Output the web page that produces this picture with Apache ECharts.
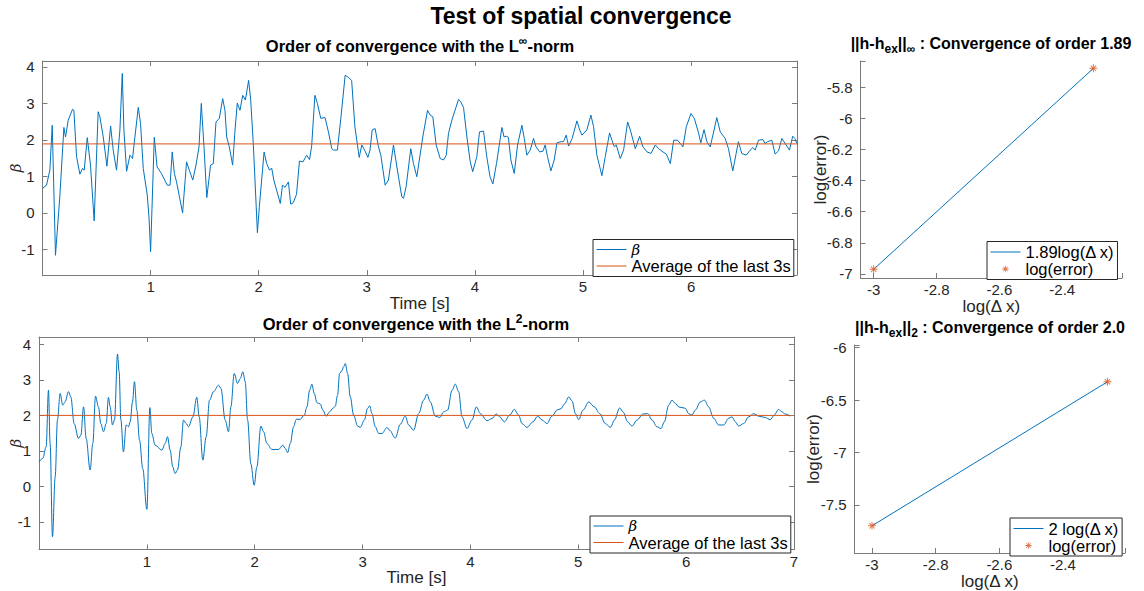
<!DOCTYPE html>
<html><head><meta charset="utf-8">
<script src="https://cdn.jsdelivr.net/npm/echarts@6/dist/echarts.min.js"></script>
<style>html,body{margin:0;padding:0;background:#fff}#c{width:1144px;height:591px}</style>
</head><body><div id="c"></div>
<script>
// ---- data ----
const betaInfPoints = [
[0,0.67],[0.037,0.76],[0.068,1.17],[0.09,2.40],[0.12,-1.16],[0.16,0.44],[0.198,2.34],[0.213,2.08],[0.238,2.54],[0.278,2.84],
[0.29,2.81],[0.315,1.54],[0.346,1.06],[0.37,1.22],[0.386,1.17],[0.414,2.06],[0.444,1.31],[0.478,-0.22],[0.515,2.77],[0.531,2.63],
[0.562,2.08],[0.596,1.28],[0.63,2.38],[0.654,1.72],[0.685,1.17],[0.716,2.27],[0.738,3.82],[0.753,2.27],[0.778,1.14],[0.809,1.58],
[0.833,1.49],[0.855,2.08],[0.886,2.89],[0.907,2.45],[0.932,1.22],[0.969,0.49],[0.985,-0.11],[1.0,-1.06],[1.034,2.07],[1.06,1.26],
[1.10,1.08],[1.154,0.76],[1.18,0.76],[1.2,1.67],[1.22,1.08],[1.24,0.85],[1.296,0.0],[1.333,1.40],[1.358,1.17],[1.39,0.90],
[1.42,1.31],[1.448,1.81],[1.469,3.0],[1.494,1.81],[1.52,0.42],[1.555,1.31],[1.58,1.35],[1.605,2.49],[1.636,2.59],[1.667,3.13],
[1.688,2.81],[1.704,2.08],[1.728,1.81],[1.759,1.31],[1.781,2.27],[1.802,3.01],[1.827,2.81],[1.852,3.22],[1.877,3.09],[1.907,3.63],
[1.926,3.09],[1.95,1.90],[1.988,-0.54],[2.006,0.17],[2.05,1.67],[2.074,1.35],[2.1,1.17],[2.12,1.23],[2.14,0.90],[2.2,0.26],
[2.22,0.76],[2.244,0.70],[2.275,0.85],[2.296,0.24],[2.32,0.28],[2.35,0.51],[2.377,1.42],[2.41,1.40],[2.444,1.58],[2.47,1.46],
[2.49,1.83],[2.52,3.22],[2.543,3.0],[2.574,2.59],[2.614,2.61],[2.645,2.22],[2.676,1.76],[2.69,1.72],[2.728,1.72],[2.76,2.59],
[2.8,3.77],[2.83,3.71],[2.86,3.63],[2.89,2.36],[2.93,1.52],[2.954,1.86],[2.98,1.72],[3.01,1.52],[3.03,1.72],[3.05,2.27],
[3.077,2.31],[3.108,1.81],[3.13,1.58],[3.17,0.76],[3.2,0.90],[3.247,1.86],[3.293,0.99],[3.324,0.44],[3.34,0.40],[3.364,0.72],
[3.407,1.76],[3.432,1.35],[3.463,0.99],[3.518,2.08],[3.562,2.81],[3.586,2.68],[3.611,2.63],[3.642,1.86],[3.679,1.49],[3.71,1.45],
[3.735,1.58],[3.756,2.18],[3.787,2.54],[3.849,3.11],[3.87,3.04],[3.895,2.89],[3.926,2.08],[3.957,1.40],[3.98,1.13],[4.018,1.54],
[4.043,2.22],[4.08,2.24],[4.11,1.54],[4.14,0.99],[4.166,0.79],[4.2,1.35],[4.25,2.34],[4.27,2.08],[4.29,2.10],[4.31,2.07],
[4.333,1.45],[4.364,1.08],[4.395,1.86],[4.435,2.40],[4.457,2.04],[4.481,1.58],[4.512,1.72],[4.543,2.04],[4.565,1.81],[4.6,1.67],
[4.63,1.69],[4.65,1.86],[4.672,1.54],[4.703,1.15],[4.734,1.45],[4.759,1.92],[4.796,1.95],[4.82,1.95],[4.845,2.13],[4.867,1.83],
[4.9,2.04],[4.944,2.52],[4.97,2.27],[4.99,2.13],[5.036,2.27],[5.073,2.68],[5.098,2.36],[5.129,1.58],[5.175,1.02],[5.206,1.54],
[5.246,2.19],[5.268,1.99],[5.29,1.81],[5.308,1.86],[5.345,1.49],[5.376,1.72],[5.413,2.49],[5.438,2.27],[5.484,1.76],[5.524,2.10],
[5.555,1.81],[5.592,1.67],[5.629,1.63],[5.669,1.86],[5.7,1.76],[5.74,1.67],[5.771,1.61],[5.808,1.35],[5.839,1.99],[5.876,1.99],
[5.925,1.81],[5.956,2.36],[5.999,2.72],[6.03,2.59],[6.07,2.18],[6.09,1.92],[6.12,2.28],[6.146,1.95],[6.177,1.81],[6.213,2.27],
[6.238,2.61],[6.27,2.22],[6.315,2.04],[6.346,1.76],[6.386,1.15],[6.417,1.63],[6.438,1.95],[6.469,1.63],[6.51,1.58],[6.547,1.72],
[6.571,1.79],[6.593,1.72],[6.624,1.99],[6.664,2.01],[6.685,1.90],[6.707,1.95],[6.747,1.99],[6.778,1.61],[6.809,1.70],[6.84,2.04],
[6.87,1.90],[6.91,1.72],[6.94,2.10],[6.96,2.04],[6.98,1.90]
];
const avgInfPoints = [[0,1.89],[6.98,1.89]];

const betaL2Points = [
[0,0.69],[0.035,0.79],[0.066,1.11],[0.088,2.71],[0.103,1.21],[0.125,-1.42],[0.15,0.27],[0.171,1.87],[0.196,2.62],[0.22,2.29],
[0.242,2.38],[0.273,2.67],[0.295,2.52],[0.326,1.77],[0.366,1.35],[0.388,1.44],[0.413,2.24],[0.437,1.35],[0.474,0.46],[0.499,1.21],
[0.524,2.54],[0.551,2.24],[0.573,1.77],[0.598,1.54],[0.623,1.77],[0.644,2.51],[0.66,2.24],[0.681,1.73],[0.70,1.87],[0.728,3.73],
[0.743,3.23],[0.759,1.87],[0.783,0.97],[0.808,1.73],[0.83,1.68],[0.845,1.82],[0.867,2.38],[0.885,2.95],[0.907,2.15],[0.932,1.30],
[0.962,0.50],[1.0,-0.65],[1.028,2.22],[1.046,1.49],[1.077,1.16],[1.139,1.02],[1.17,1.21],[1.191,1.40],[1.216,1.02],[1.24,0.55],
[1.262,0.36],[1.284,0.46],[1.315,1.11],[1.34,1.87],[1.365,1.77],[1.386,1.68],[1.427,1.96],[1.463,2.51],[1.485,1.96],[1.519,0.74],
[1.55,1.40],[1.581,2.43],[1.618,2.67],[1.665,2.85],[1.687,2.76],[1.726,1.87],[1.757,1.54],[1.779,2.24],[1.81,3.18],[1.841,2.90],
[1.866,3.04],[1.89,3.23],[1.912,2.95],[1.934,1.87],[1.964,0.64],[1.995,0.03],[2.02,0.55],[2.057,1.70],[2.082,1.54],[2.113,1.21],
[2.159,1.04],[2.221,1.04],[2.261,1.16],[2.283,1.07],[2.305,0.95],[2.33,1.21],[2.36,1.68],[2.385,1.89],[2.422,1.89],[2.46,2.01],
[2.484,2.24],[2.509,2.71],[2.53,2.88],[2.552,2.62],[2.577,2.36],[2.608,2.32],[2.632,2.15],[2.663,1.98],[2.694,2.10],[2.725,2.20],
[2.747,2.26],[2.768,2.57],[2.787,3.18],[2.809,3.26],[2.824,3.37],[2.84,3.46],[2.861,3.18],[2.886,2.52],[2.917,2.01],[2.954,1.70],
[2.979,1.66],[3.016,1.87],[3.047,2.20],[3.066,2.27],[3.087,2.05],[3.118,1.68],[3.149,1.49],[3.18,1.49],[3.226,1.66],[3.251,1.58],
[3.303,1.36],[3.35,1.75],[3.396,1.98],[3.427,1.73],[3.473,1.58],[3.52,2.05],[3.566,2.43],[3.597,2.60],[3.628,2.38],[3.674,1.98],
[3.715,1.94],[3.752,2.10],[3.789,2.15],[3.829,2.71],[3.86,2.88],[3.891,2.67],[3.922,1.96],[3.968,1.63],[4.015,1.87],[4.055,2.24],
[4.092,2.05],[4.154,1.85],[4.2,1.91],[4.24,2.04],[4.271,1.96],[4.315,1.82],[4.364,2.01],[4.407,2.17],[4.447,2.01],[4.478,1.77],
[4.525,1.66],[4.58,1.82],[4.624,1.98],[4.664,1.87],[4.71,1.77],[4.757,1.98],[4.803,2.15],[4.84,2.19],[4.871,2.32],[4.912,2.52],
[4.942,2.41],[4.973,2.05],[5.004,1.88],[5.044,2.15],[5.097,2.38],[5.149,2.24],[5.199,2.05],[5.251,1.77],[5.298,1.66],[5.335,1.87],
[5.384,2.21],[5.415,2.10],[5.458,1.82],[5.498,1.70],[5.545,1.87],[5.6,2.04],[5.644,2.05],[5.684,1.87],[5.73,1.68],[5.767,1.63],
[5.798,1.82],[5.838,2.29],[5.869,2.43],[5.9,2.34],[5.931,2.24],[5.993,2.20],[6.023,2.05],[6.054,2.01],[6.085,2.15],[6.132,2.38],
[6.169,2.43],[6.209,2.24],[6.255,1.92],[6.302,1.73],[6.348,1.73],[6.394,1.92],[6.425,1.96],[6.456,1.82],[6.487,1.70],[6.533,1.77],
[6.58,1.96],[6.626,2.05],[6.672,1.98],[6.734,1.94],[6.78,1.88],[6.817,2.01],[6.857,2.17],[6.888,2.10],[6.919,2.04],[6.965,1.98]
];
const avgL2Points = [[0,2.0],[6.97,2.0]];

const logDxInf = [-3, -2.301];
const logErrInf = [-6.97, -5.68];
const logDxL2 = [-3, -2.26];
const logErrL2 = [-7.70, -6.325];

const seriesNames = ['β', 'Average of the last 3s'];
const fitNames = ['1.89log(Δ x)', '2 log(Δ x)'];
const errName = 'log(error)';

// ---- styling ----
const FONT = '"Liberation Sans", Arial, Helvetica, sans-serif';
const BLUE = '#0072BD', ORANGE = '#D95319', AX = '#7a7a7a', TXT = '#262626';
const STAR = 'path://M4.4 0H5.6V10H4.4Z M0 4.4H10V5.6H0Z M1.2 2.05L2.05 1.2L8.8 7.95L7.95 8.8Z M7.95 1.2L8.8 2.05L2.05 8.8L1.2 7.95Z';
const STAR_ICON = 'path://M-6 -6h0.01v0.01h-0.01Z M16 16h0.01v0.01h-0.01Z M4.4 0H5.6V10H4.4Z M0 4.4H10V5.6H0Z M1.2 2.05L2.05 1.2L8.8 7.95L7.95 8.8Z M7.95 1.2L8.8 2.05L2.05 8.8L1.2 7.95Z';

function stepFmt(step, hideZero) {
  return function (v) {
    const k = v / step;
    if (Math.abs(k - Math.round(k)) > 1e-6) return '';
    if (hideZero && Math.abs(v) < 1e-9) return '';
    return String(Number(v.toFixed(2)));
  };
}
function axisBase(gridIndex, min, max, step, pos, opts) {
  opts = opts || {};
  const isX = pos === 'bottom' || pos === 'top';
  return Object.assign({
    type: 'value', gridIndex, min, max, position: pos,
    minInterval: step, maxInterval: step, splitNumber: opts.split || 5,
    axisLine: { show: true, onZero: false, lineStyle: { color: AX, width: 1 } },
    axisTick: { show: true, inside: true, length: 5, lineStyle: { color: AX } },
    axisLabel: { show: !opts.mirror, color: TXT, fontSize: 15, fontFamily: FONT, margin: isX ? 4 : 8,
      formatter: stepFmt(step, opts.hideZero) },
    splitLine: { show: false }
  }, opts.extra || {});
}
const nameStyle = { color: TXT, fontSize: 17, fontFamily: FONT };

const xAxis = [
  axisBase(0, 0, 6.98, 1, 'bottom', { hideZero: true, extra: { name: 'Time [s]', nameLocation: 'middle', nameGap: 17, nameTextStyle: nameStyle } }),
  axisBase(0, 0, 6.98, 1, 'top', { mirror: true }),
  axisBase(1, 0, 7, 1, 'bottom', { hideZero: true, extra: { name: 'Time [s]', nameLocation: 'middle', nameGap: 17, nameTextStyle: nameStyle } }),
  axisBase(1, 0, 7, 1, 'top', { mirror: true }),
  axisBase(2, -3.042, -2.21, 0.2, 'bottom', { extra: { name: 'log(Δ x)', nameLocation: 'middle', nameGap: 17, nameTextStyle: nameStyle } }),
  axisBase(3, -3.055, -2.205, 0.2, 'bottom', { extra: { name: 'log(Δ x)', nameLocation: 'middle', nameGap: 17, nameTextStyle: nameStyle } })
];
function betaName(gap) {
  return { name: 'β', nameLocation: 'middle', nameGap: gap, nameRotate: 90, nameMoveOverlap: false,
    nameTextStyle: { color: TXT, fontSize: 15, fontStyle: 'italic', fontFamily: 'DejaVu Serif, serif' } };
}
function errAxName(gap) {
  return { name: 'log(error)', nameLocation: 'middle', nameGap: gap, nameRotate: 90, nameMoveOverlap: false, nameTextStyle: nameStyle };
}
const yAxis = [
  axisBase(0, -1.7, 4.16, 1, 'left', { extra: betaName(19) }),
  axisBase(0, -1.7, 4.16, 1, 'right', { mirror: true }),
  axisBase(1, -1.78, 4.21, 1, 'left', { extra: betaName(16) }),
  axisBase(1, -1.78, 4.21, 1, 'right', { mirror: true }),
  axisBase(2, -7.026, -5.633, 0.2, 'left', { extra: errAxName(32) }),
  axisBase(3, -7.96, -5.974, 0.5, 'left', { split: 4, extra: errAxName(33) })
];

const gridBase = { outerBoundsMode: 'none', containLabel: false };
const grid = [
  Object.assign({ left: 42.5, top: 61, width: 754.5, height: 214 }, gridBase),
  Object.assign({ left: 39, top: 337, width: 755, height: 212.5 }, gridBase),
  Object.assign({ left: 860.5, top: 61, width: 261.5, height: 217 }, gridBase),
  Object.assign({ left: 854.5, top: 345, width: 270.5, height: 208 }, gridBase)
];

function lineSeries(name, data, xi, yi, color, smooth) {
  return { type: 'line', name, data, xAxisIndex: xi, yAxisIndex: yi, symbol: 'none',
    smooth: smooth || false, smoothMonotone: smooth ? 'x' : undefined,
    lineStyle: { color, width: 1 }, itemStyle: { color }, silent: true };
}
function zip(a, b) { return a.map((v, i) => [v, b[i]]); }
function starSeries(xi, yi, data) {
  return { type: 'scatter', name: errName, data, xAxisIndex: xi, yAxisIndex: yi, symbol: STAR,
    symbolSize: 8, symbolKeepAspect: true, itemStyle: { color: ORANGE }, silent: true, z: 3 };
}
const series = [
  lineSeries(seriesNames[0], betaInfPoints, 0, 0, BLUE, false),
  lineSeries(seriesNames[1], avgInfPoints, 0, 0, ORANGE, false),
  lineSeries(seriesNames[0], betaL2Points, 2, 2, BLUE, 0.35),
  lineSeries(seriesNames[1], avgL2Points, 2, 2, ORANGE, false),
  lineSeries(fitNames[0], zip(logDxInf, logErrInf), 4, 4, BLUE, false),
  starSeries(4, 4, zip(logDxInf, logErrInf)),
  lineSeries(fitNames[1], zip(logDxL2, logErrL2), 5, 5, BLUE, false),
  starSeries(5, 5, zip(logDxL2, logErrL2))
];

const hideSym = { opacity: 0 };
function legendBox(items, left, top) {
  return { data: items, left, top, orient: 'vertical', selectedMode: false,
    backgroundColor: '#fff', borderColor: '#262626', borderWidth: 1, borderRadius: 0,
    padding: [2, 3, 2, 3], itemGap: 0, itemWidth: 30, itemHeight: 14,
    lineStyle: { width: 1 },
    textStyle: { color: '#000', fontSize: 16.5, fontFamily: FONT, lineHeight: 16,
      rich: { i: { fontStyle: 'italic', fontFamily: 'DejaVu Serif, serif', fontSize: 15, color: '#000' } } },
    formatter: n => n === 'β' ? '{i|β}' : n };
}
const legend = [
  legendBox([{ name: seriesNames[0], itemStyle: hideSym }, { name: seriesNames[1], itemStyle: hideSym }], 593, 239.5),
  legendBox([{ name: seriesNames[0], itemStyle: hideSym }, { name: seriesNames[1], itemStyle: hideSym }], 590, 516),
  legendBox([{ name: fitNames[0], itemStyle: hideSym }, { name: errName, icon: STAR_ICON }], 987, 241.5),
  legendBox([{ name: fitNames[1], itemStyle: hideSym }, { name: errName, icon: STAR_ICON }], 1010, 518)
];

function txt(text, x, y, size, rich) {
  return { type: 'text', x, y, silent: true,
    style: { text, fill: '#000', fontSize: size, fontWeight: 'bold', fontFamily: FONT,
      align: 'center', verticalAlign: 'middle', rich: rich || {} } };
}
const supRich = { sup: { fontSize: 12, fontWeight: 'bold', fontFamily: FONT, verticalAlign: 'top', fill: '#000' },
                  b: { fontSize: 16.5, fontWeight: 'bold', fontFamily: FONT, lineHeight: 22, fill: '#000' } };
const subRich = { sub: { fontSize: 12, fontWeight: 'bold', fontFamily: FONT, verticalAlign: 'bottom', fill: '#000' },
                  b: { fontSize: 16, fontWeight: 'bold', fontFamily: FONT, lineHeight: 24, fill: '#000' } };
const graphic = [
  txt('Test of spatial convergence', 581, 16, 23),
  txt('{b|Order of convergence with the L}{sup|∞}{b|-norm}', 420, 46, 16.5, supRich),
  txt('{b|Order of convergence with the L}{sup|2}{b|-norm}', 416, 324, 16.5, supRich),
  txt('{b|||h-h}{sub|ex}{b|||}{sub|∞}{b| : Convergence of order 1.89}', 991, 43, 16, subRich),
  txt('{b|||h-h}{sub|ex}{b|||}{sub|2}{b| : Convergence of order 2.0}', 990, 327, 16, subRich)
];

const chart = echarts.init(document.getElementById('c'), null, { renderer: 'svg' });
chart.setOption({ animation: false, backgroundColor: '#fff', grid, xAxis, yAxis, series, legend, graphic });
</script></body></html>
